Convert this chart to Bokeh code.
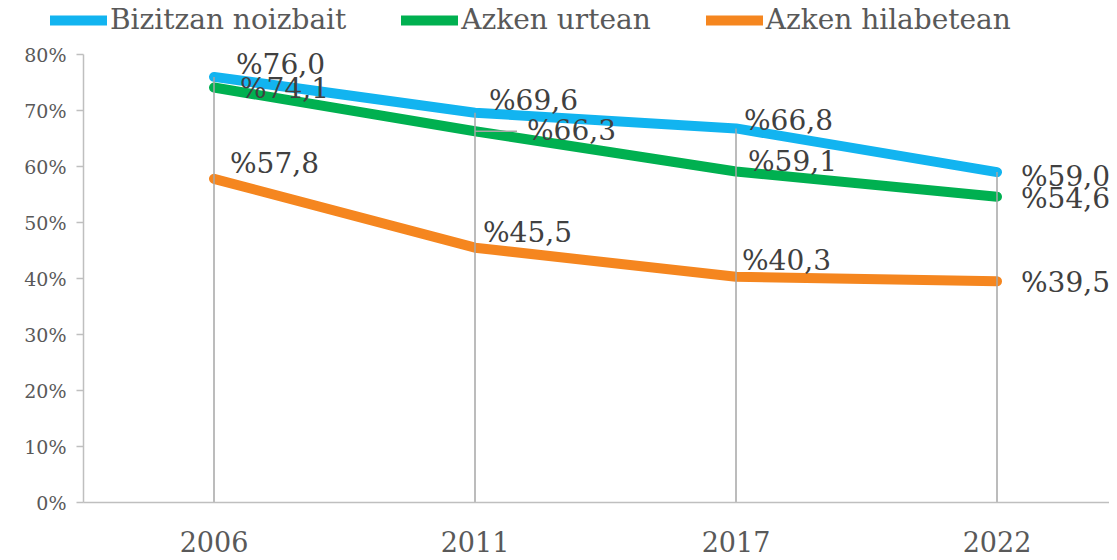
from bokeh.plotting import figure
from bokeh.models import Range1d, FixedTicker, Legend, LegendItem
from bokeh.core.properties import value
from bokeh.embed import file_html
from bokeh.resources import INLINE

years = ["2006", "2011", "2017", "2022"]
series_names = ["Bizitzan noizbait", "Azken urtean", "Azken hilabetean"]
bizitzan = [76.0, 69.6, 66.8, 59.0]
azken_urtean = [74.1, 66.3, 59.1, 54.6]
azken_hilabetean = [57.8, 45.5, 40.3, 39.5]
colors = ["#12B4F0", "#00B050", "#F5861F"]

# label offsets in screen pixels (style only)
offsets = [
    [(22, -12), (14, -12), (8, -8), (24, 4)],
    [(26, 1), (52, -1), (12, -10), (24, 2)],
    [(16, -15), (8, -15), (6, -16), (24, 1)],
]

FONT = "DejaVu Serif"
xs = list(range(len(years)))
W, H = 1109, 556
AXIS_X = 83          # pixel position of the y axis
AXIS_Y = 502         # pixel position of the x axis (from top)
PX_X = 261.0         # pixels per category
PX_Y = 5.6           # pixels per percent
x0 = -0.5 - AXIS_X / PX_X
y0 = -(H - AXIS_Y) / PX_Y

p = figure(width=W, height=H, output_backend="svg", toolbar_location=None,
           x_range=Range1d(x0, x0 + W / PX_X),
           y_range=Range1d(y0, y0 + H / PX_Y), min_border_left=0, min_border_right=0,
           min_border_top=0, min_border_bottom=0)
p.outline_line_color = None
p.grid.visible = False

all_series = [bizitzan, azken_urtean, azken_hilabetean]
renderers = []
for vals, col in zip(all_series, colors):
    r = p.line(xs, vals, line_color=col, line_width=10, line_cap="round", line_join="round")
    renderers.append(r)

# drop lines from 0 to highest value
tops = [max(v) for v in zip(*all_series)]
p.segment(x0=xs, y0=[0] * len(xs), x1=xs, y1=tops, line_color="#A6A6A6", line_width=1.5)

# leader line for the 2011 "Azken urtean" label
dx, dy = offsets[1][1]
p.segment(x0=[xs[1]], y0=[azken_urtean[1]], x1=[xs[1] + (dx - 10) / PX_X],
          y1=[azken_urtean[1]], line_color="#A6A6A6", line_width=1.5)

for vals, offs in zip(all_series, offsets):
    for x, v, (ox, oy) in zip(xs, vals, offs):
        lbl = "%" + f"{v:.1f}".replace(".", ",")
        p.text(x=[x], y=[v], text=[lbl], x_offset=ox, y_offset=oy,
               text_font=value(FONT), text_font_size="28px", text_color="#404040",
               text_align="left", text_baseline="middle")

p.xaxis.fixed_location = 0
p.xaxis.ticker = FixedTicker(ticks=xs)
p.xaxis.major_label_overrides = {i: y for i, y in enumerate(years)}
p.xaxis.major_tick_line_color = None
p.xaxis.minor_tick_line_color = None
p.xaxis.axis_line_color = "#BFBFBF"
p.xaxis.axis_line_width = 1.5
p.xaxis.bounds = (-0.5, x0 + W / PX_X)
p.xaxis.major_label_text_font = FONT
p.xaxis.major_label_text_font_size = "27px"
p.xaxis.major_label_text_color = "#595959"
p.xaxis.major_label_standoff = 22

p.yaxis.fixed_location = -0.5
p.yaxis.bounds = (0, 80)
p.yaxis.ticker = FixedTicker(ticks=list(range(0, 81, 10)))
p.yaxis.major_label_overrides = {t: f"{t}%" for t in range(0, 81, 10)}
p.yaxis.minor_tick_line_color = None
p.yaxis.axis_line_color = "#BFBFBF"
p.yaxis.axis_line_width = 1.5
p.yaxis.major_tick_line_color = "#BFBFBF"
p.yaxis.major_tick_line_width = 1.5
p.yaxis.major_tick_out = 7
p.yaxis.major_tick_in = 0
p.yaxis.major_label_text_font = FONT
p.yaxis.major_label_text_font_size = "19px"
p.yaxis.major_label_text_color = "#595959"
p.yaxis.major_label_standoff = 10

legend = Legend(items=[LegendItem(label=n, renderers=[r]) for n, r in zip(series_names, renderers)],
                orientation="horizontal", location=(50, H - 36))
legend.label_text_font = FONT
legend.label_text_font_size = "28px"
legend.label_text_color = "#595959"
legend.glyph_width = 57
legend.label_standoff = 3
legend.spacing = 55
legend.border_line_color = None
legend.background_fill_alpha = 0
legend.padding = 0
legend.margin = 0
p.add_layout(legend)

open("out.html", "w").write(file_html(p, INLINE))
